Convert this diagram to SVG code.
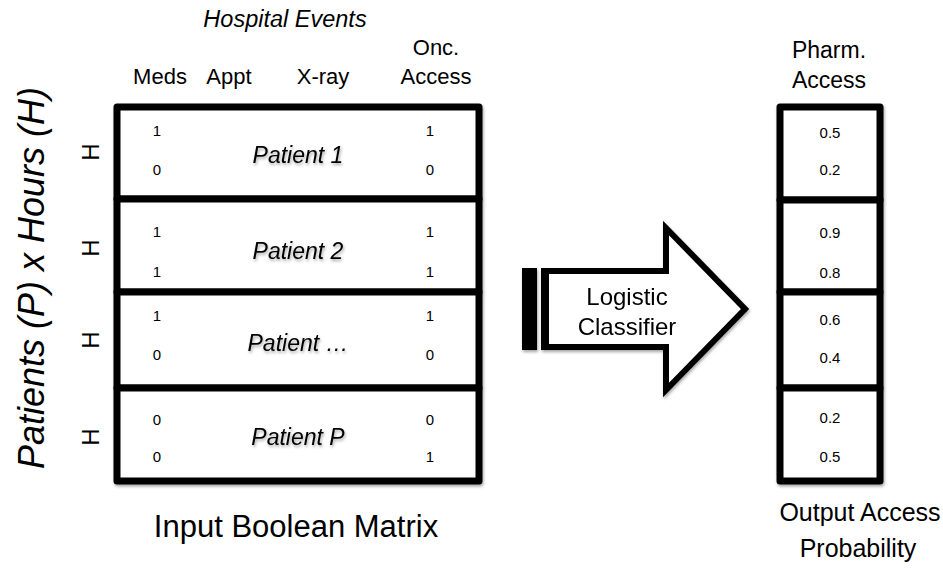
<svg xmlns="http://www.w3.org/2000/svg" width="943" height="568" viewBox="0 0 943 568">
  <defs>
    <filter id="soft" x="-10%" y="-10%" width="130%" height="130%">
      <feDropShadow dx="1" dy="2" stdDeviation="1.5" flood-color="#000" flood-opacity="0.35"/>
    </filter>
  </defs>
  <style>
    text { font-family: "Liberation Sans", Arial, sans-serif; fill: #000; }
    .hdr { font-size: 22px; text-anchor: middle; }
    .ttl { font-size: 23.5px; font-style: italic; text-anchor: middle; }
    .num { font-size: 15px; text-anchor: middle; }
    .pat { font-size: 23px; font-style: italic; text-anchor: middle; filter: url(#soft); }
    .big { font-size: 25px; text-anchor: middle; }
    .h { font-size: 24px; text-anchor: middle; }
    .cell { fill: #fff; stroke: #000; stroke-width: 7; stroke-linejoin: round; }
    .arrow { fill: #fff; stroke: #000; stroke-width: 6; stroke-linejoin: miter; }
  </style>

  <!-- axis label -->
  <text class="ttl" transform="translate(44,278) rotate(-90)" style="font-size:36px">Patients (P) x Hours (H)</text>

  <!-- column headers -->
  <text class="ttl" x="285" y="27">Hospital Events</text>
  <text class="hdr" x="160" y="84">Meds</text>
  <text class="hdr" x="229" y="84">Appt</text>
  <text class="hdr" x="323" y="84">X-ray</text>
  <text class="hdr" x="436" y="55">Onc.</text>
  <text class="hdr" x="436" y="84">Access</text>

  <!-- input matrix -->
  <g id="input-matrix" filter="url(#soft)">
    <rect class="cell" x="117" y="107" width="362" height="92"/>
    <rect class="cell" x="117" y="199" width="362" height="93"/>
    <rect class="cell" x="117" y="292" width="362" height="96"/>
    <rect class="cell" x="117" y="388" width="362" height="93"/>
  </g>

  <g id="patient-1">
    <text class="h" transform="translate(99,152) rotate(-90)">H</text>
    <text class="num" x="157" y="136">1</text>
    <text class="num" x="157" y="175">0</text>
    <text class="num" x="430" y="136">1</text>
    <text class="num" x="430" y="175">0</text>
    <text class="pat" x="298" y="163">Patient 1</text>
  </g>
  <g id="patient-2">
    <text class="h" transform="translate(99,248) rotate(-90)">H</text>
    <text class="num" x="157" y="237">1</text>
    <text class="num" x="157" y="277">1</text>
    <text class="num" x="430" y="237">1</text>
    <text class="num" x="430" y="277">1</text>
    <text class="pat" x="298" y="259">Patient 2</text>
  </g>
  <g id="patient-n">
    <text class="h" transform="translate(99,340) rotate(-90)">H</text>
    <text class="num" x="157" y="321">1</text>
    <text class="num" x="157" y="360">0</text>
    <text class="num" x="430" y="321">1</text>
    <text class="num" x="430" y="360">0</text>
    <text class="pat" x="298" y="351">Patient …</text>
  </g>
  <g id="patient-p">
    <text class="h" transform="translate(99,437) rotate(-90)">H</text>
    <text class="num" x="157" y="425">0</text>
    <text class="num" x="157" y="462">0</text>
    <text class="num" x="430" y="425">0</text>
    <text class="num" x="430" y="462">1</text>
    <text class="pat" x="298" y="445">Patient P</text>
  </g>

  <text id="input-label" class="big" x="296" y="537" style="font-size:31px">Input Boolean Matrix</text>

  <!-- classifier arrow -->
  <g id="classifier" filter="url(#soft)">
    <rect x="522" y="268" width="15" height="82" fill="#000"/>
    <rect x="541" y="268" width="8" height="82" fill="#000"/>
    <polygon class="arrow" points="546,271 666,271 666,228 745,309 666,390 666,347 546,347"/>
    <text class="hdr" x="627" y="305" style="font-size:24px">Logistic</text>
    <text class="hdr" x="627" y="335" style="font-size:24px">Classifier</text>
  </g>

  <!-- output column -->
  <text class="hdr" x="829" y="58" style="font-size:23px">Pharm.</text>
  <text class="hdr" x="829" y="88" style="font-size:23px">Access</text>

  <g id="output-column" filter="url(#soft)">
    <rect class="cell" x="780" y="107" width="100" height="93"/>
    <rect class="cell" x="780" y="200" width="100" height="92"/>
    <rect class="cell" x="780" y="292" width="100" height="96"/>
    <rect class="cell" x="780" y="388" width="100" height="93"/>
  </g>
  <g id="output-values">
    <text class="num" x="830" y="138">0.5</text>
    <text class="num" x="830" y="175">0.2</text>
    <text class="num" x="830" y="238">0.9</text>
    <text class="num" x="830" y="278">0.8</text>
    <text class="num" x="830" y="325">0.6</text>
    <text class="num" x="830" y="363">0.4</text>
    <text class="num" x="830" y="423">0.2</text>
    <text class="num" x="830" y="462">0.5</text>
  </g>

  <text class="big" x="860" y="521">Output Access</text>
  <text class="big" x="858" y="557">Probability</text>
</svg>
